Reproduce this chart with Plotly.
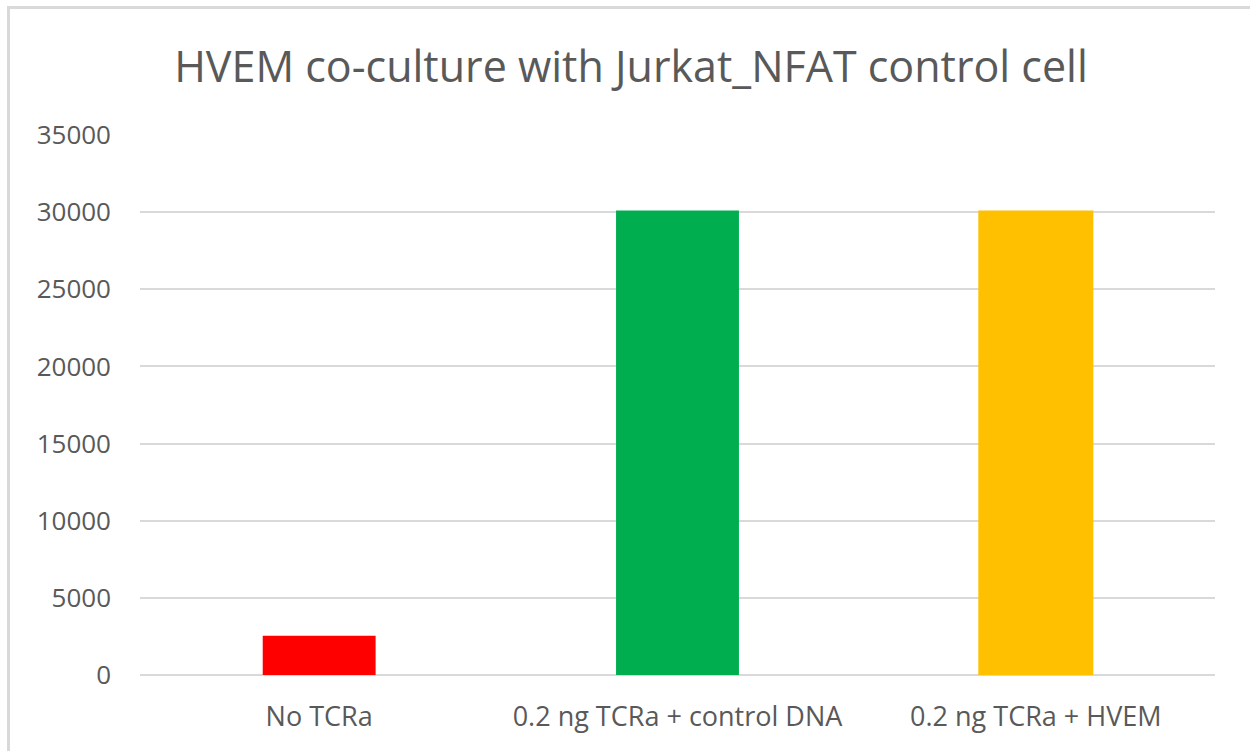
import plotly.graph_objects as go

categories = ["No TCRa", "0.2 ng TCRa + control DNA", "0.2 ng TCRa + HVEM"]
values = [2550, 30100, 30100]
bar_colors = ["#FF0000", "#00AD4F", "#FFC000"]
bar_widths = [0.315, 0.343, 0.321]
y_ticks = [0, 5000, 10000, 15000, 20000, 25000, 30000, 35000]

FONT = "Open Sans"
GREY = "#595959"

fig = go.Figure(go.Bar(
    x=categories, y=values, marker=dict(color=bar_colors, line=dict(width=0)),
    width=bar_widths,
))

W, H = 1250, 751
L, R, T, B = 140, 35, 135, 76
pw, ph = W - L - R, H - T - B

def px_x(p):
    return (p - L) / pw

def px_y(p):
    return (H - B - p) / ph

fig.update_layout(
    width=W, height=H,
    margin=dict(l=L, r=R, t=T, b=B, autoexpand=False),
    paper_bgcolor="white", plot_bgcolor="white",
    showlegend=False,
    title=dict(text="HVEM co-culture with Jurkat_NFAT control cell",
               x=631 / W, xanchor="center", xref="container",
               y=1 - 67 / H, yanchor="middle",
               font=dict(family=FONT, size=43, color=GREY)),
    font=dict(family=FONT, color=GREY),
    xaxis=dict(showgrid=False, showline=False, zeroline=False, ticks="",
               tickfont=dict(size=27, color=GREY), ticklabelstandoff=23),
    yaxis=dict(range=[0, 35000], tickvals=y_ticks, tickformat="d", showgrid=True,
               gridcolor="#D9D9D9", gridwidth=2, zeroline=True, zerolinecolor="#D9D9D9",
               zerolinewidth=2, showline=False, ticks="",
               tickfont=dict(size=26, color=GREY), ticklabelstandoff=28),
    shapes=[
        dict(type="line", xref="paper", yref="paper", x0=px_x(8.5), x1=px_x(8.5),
             y0=px_y(7.5), y1=px_y(751), line=dict(color="#D9D9D9", width=3)),
        dict(type="line", xref="paper", yref="paper", x0=px_x(7), x1=px_x(1250),
             y0=px_y(7.5), y1=px_y(7.5), line=dict(color="#D9D9D9", width=3)),
    ],
)

fig.write_html("out.html", config={"displayModeBar": False},
               post_script="document.body.style.margin='0';")
